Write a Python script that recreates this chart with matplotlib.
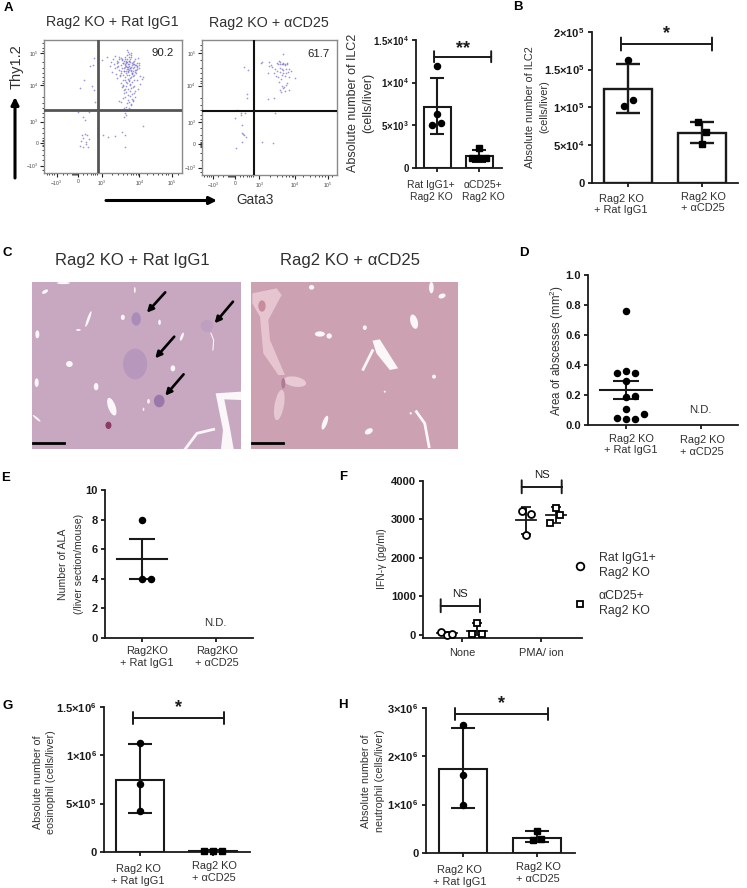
import matplotlib
matplotlib.use("Agg")
import matplotlib.pyplot as plt
from matplotlib.patches import Ellipse, Polygon
from matplotlib.transforms import ScaledTranslation

plt.rcParams['font.family'] = ['Liberation Sans', 'DejaVu Sans']
plt.rcParams['mathtext.fontset'] = 'custom'
plt.rcParams['mathtext.rm'] = 'Liberation Sans'
plt.rcParams['mathtext.it'] = 'Liberation Sans'
plt.rcParams['mathtext.bf'] = 'Liberation Sans:bold'

W, H = 747, 888
INK = '#1a1a1a'
GREY = '#303030'

# ---------- flow cytometry events (channel units) ----------
flow1_x = [235,268,250,255,372,428,365,310,325,345,375,375,245,255,262,250,268,243,258,240,258,265,248,
           240,253,275,283,285,283,270,280,
           305,322,333,340,350,352,358,362,366,370,374,378,382,386,390,394,398,402,406,410,414,418,
           345,355,362,368,372,376,380,384,388,392,396,400,404,408,412,416,420,428,
           335,348,356,364,370,377,381,385,389,393,397,401,405,411,
           352,360,368,374,379,383,387,391,395,399,403,
           362,370,376,381,386,391,396,402,410,420,427,
           365,372,378,384,389,394,399,406,
           372,378,384,390,396,402,415,
           368,376,383,390,397,404,
           375,382,388,394,400,
           378,385,392,399,
           358,364,380,388,394,374,373,380,388,378,
           330,342,354,366,374,379,383,387,391,395,375,381,386,390,372,377,384,388,393,398,
           345,356,362,371,376,382,386,392,403,409,352,366,378,385,396,404,412,418,
           360,371,380,392,401,388,378,369,398,408]
flow1_y = [337,335,350,360,352,378,395,405,412,408,405,442,405,402,405,415,418,422,425,437,432,440,440,
           263,240,258,270,307,175,197,195,
           180,172,185,178,190,183,170,195,178,188,172,198,165,182,176,158,185,192,178,190,175,188,
           205,198,212,190,205,195,185,208,192,200,188,205,195,210,198,205,228,232,
           215,222,210,218,225,212,200,215,205,212,222,200,215,208,
           235,228,240,232,220,238,225,235,218,228,240,
           248,255,240,250,242,252,245,258,240,252,238,
           262,270,258,268,255,265,260,272,
           280,275,285,272,282,278,268,
           295,290,300,288,296,292,
           268,310,305,315,302,
           320,155,312,300,
           303,305,150,162,165,340,325,330,325,345,
           198,192,186,180,192,186,192,198,204,196,202,207,210,186,212,190,200,183,209,193,
           168,178,175,182,176,178,172,170,184,196,200,204,182,214,218,210,200,196,
           226,214,226,232,224,240,246,258,212,220]
flow2_x = [848,783,787,807,808,813,815,803,825,823,832,836,840,834,840,847,850,856,860,862,855,848,
           839,845,850,858,868,872,864,858,850,840,832,845,856,868,884,828,834,844,862,858,845,848,840,844,856,868,853,804,822,838,825,
           733,743,742,741,712,722,723,734,706,727,727,730,733,737,727,709,787,818]
flow2_y = [162,190,188,188,198,195,203,220,208,220,190,185,188,194,192,192,190,192,190,192,196,194,
           206,208,210,208,208,215,218,220,220,217,215,225,228,232,234,230,233,238,250,257,260,265,272,278,275,272,263,297,295,246,340,
           203,210,283,295,331,340,346,341,356,376,398,401,406,411,427,443,427,430]

flow_xtick_labels = ['$-10^{3}$', '0', '$10^{3}$', '$10^{4}$', '$10^{5}$']
flow_ytick_labels = ['$10^{5}$', '$10^{4}$', '$10^{3}$', '0', '$-10^{3}$']
flow1_percent = '90.2'
flow2_percent = '61.7'

# ---------- bar panels ----------
groups_a = ['Rat IgG1+\nRag2 KO', 'αCD25+\nRag2 KO']
a_mean = [7100, 1400]
a_lo = [3900, 700]
a_hi = [10500, 2100]
a_pts1 = [12000, 6300, 5000, 5200]
a_pts2 = [2300, 1100, 1100, 1100]
a_ticks = [0, 5e3, 1e4, 1.5e4]
a_ticklabels = ['0', r'$\mathbf{5}$×$\mathbf{10^{3}}$', r'$\mathbf{1}$×$\mathbf{10^{4}}$', r'$\mathbf{1.5}$×$\mathbf{10^{4}}$']

groups_b = ['Rag2 KO\n+ Rat IgG1', 'Rag2 KO\n+ αCD25']
b_mean = [1.24e5, 6.6e4]
b_lo = [9.2e4, 5.3e4]
b_hi = [1.57e5, 8.0e4]
b_pts1 = [1.62e5, 1.10e5, 1.02e5]
b_pts2 = [8.0e4, 6.8e4, 5.2e4]
b_ticks = [0, 5e4, 1e5, 1.5e5, 2e5]
b_ticklabels = ['0', r'$\mathbf{5}$×$\mathbf{10^{4}}$', r'$\mathbf{1}$×$\mathbf{10^{5}}$',
                r'$\mathbf{1.5}$×$\mathbf{10^{5}}$', r'$\mathbf{2}$×$\mathbf{10^{5}}$']

d_groups = ['Rag2 KO\n+ Rat IgG1', 'Rag2 KO\n+ αCD25']
d_pts = [0.76, 0.35, 0.36, 0.35, 0.295, 0.19, 0.195, 0.105, 0.05, 0.04, 0.04, 0.075]
d_dx = [0, -9, 0, 9, 0, 0, 9, 0, -9, 0, 9, 18]
d_mean, d_lo, d_hi = 0.235, 0.175, 0.295
d_ticks = [0, 0.2, 0.4, 0.6, 0.8, 1.0]

e_groups = ['Rag2KO\n+ Rat IgG1', 'Rag2KO\n+ αCD25']
e_pts = [8, 4, 4]
e_dx = [0, 0, 9]
e_mean, e_lo, e_hi = 5.33, 4.0, 6.67
e_ticks = [0, 2, 4, 6, 8, 10]

f_cond = ['None', 'PMA/ ion']
f_series = ['Rat IgG1+\nRag2 KO', 'αCD25+\nRag2 KO']
f_rat_none = [90, 0, 20]
f_rat_pma = [3230, 3130, 2600]
f_cd25_none = [300, 20, 20]
f_cd25_pma = [3310, 3120, 2910]
f_rat_dx = [-6, 0, 5]
f_cd25_dx = [0, -5, 5]
f_rat_pma_dx = [-4, 5, 0]
f_cd25_pma_dx = [0, 4, -6]
f_rat_mean, f_rat_lo, f_rat_hi = [40, 2980], [0, 2630], [85, 3320]
f_cd_mean, f_cd_lo, f_cd_hi = [110, 3120], [0, 2920], [300, 3320]
f_ticks = [0, 1000, 2000, 3000, 4000]

g_mean = [7.45e5, 1.2e4]
g_lo = [4.0e5, 0.8e4]
g_hi = [1.11e6, 1.6e4]
g_pts1 = [1.13e6, 7.0e5, 4.2e5]
g_pts2 = [1.2e4, 1.2e4, 1.2e4]
g_ticks = [0, 5e5, 1e6, 1.5e6]
g_ticklabels = ['0', r'$\mathbf{5}$×$\mathbf{10^{5}}$', r'$\mathbf{1}$×$\mathbf{10^{6}}$', r'$\mathbf{1.5}$×$\mathbf{10^{6}}$']

h_mean = [1.74e6, 3.2e5]
h_lo = [9.3e5, 2.2e5]
h_hi = [2.59e6, 4.5e5]
h_pts1 = [2.65e6, 1.62e6, 1.0e6]
h_pts2 = [4.5e5, 2.7e5, 2.8e5]
h_ticks = [0, 1e6, 2e6, 3e6]
h_ticklabels = ['0', r'$\mathbf{1}$×$\mathbf{10^{6}}$', r'$\mathbf{2}$×$\mathbf{10^{6}}$', r'$\mathbf{3}$×$\mathbf{10^{6}}$']

fig = plt.figure(figsize=(W / 100, H / 100), dpi=100, facecolor='white')


def px_axes(l, t, r, b, **kw):
    return fig.add_axes([l / W, 1 - b / H, (r - l) / W, (b - t) / H], **kw)


def ftext(x, y, s, **kw):
    kw.setdefault('ha', 'center')
    kw.setdefault('va', 'center')
    kw.setdefault('color', GREY)
    return fig.text(x / W, 1 - y / H, s, **kw)


def farrow(x0, y0, x1, y1, lw=2.2, scale=11):
    fig.add_artist(matplotlib.patches.FancyArrowPatch(
        (x0 / W, 1 - y0 / H), (x1 / W, 1 - y1 / H), transform=fig.transFigure,
        arrowstyle='-|>', mutation_scale=scale, lw=lw, color='black', shrinkA=0, shrinkB=0))


def chart(l, t, r, b, ylim, cat0, cat1, ticks, ticklabels, xlabels, tick_size=8, label_size=7.9, pads=(4, 4), label_dx=(0, 0)):
    ax = px_axes(l, t, r, b)
    u = 1.0 / (cat1 - cat0)
    ax.set_xlim((l - cat0) * u, (r - cat0) * u)
    ax.set_ylim(*ylim)
    for s in ('top', 'right'):
        ax.spines[s].set_visible(False)
    for s in ('left', 'bottom'):
        ax.spines[s].set_linewidth(1.3)
        ax.spines[s].set_color(INK)
    ax.patch.set_alpha(0)
    ax.set_yticks(ticks)
    ax.set_yticklabels(ticklabels, fontsize=tick_size, fontweight='bold', color=INK)
    ax.set_xticks([0, 1])
    ax.set_xticklabels(xlabels, fontsize=label_size, color=GREY, linespacing=1.2)
    ax.tick_params(axis='both', length=3.2, width=1.3, color=INK, pad=2)
    for tick, p in zip(ax.xaxis.get_major_ticks(), pads):
        tick.set_pad(p)
    for lab, d in zip(ax.get_xticklabels(), label_dx):
        lab.set_transform(lab.get_transform() + ScaledTranslation(d / 100, 0, fig.dpi_scale_trans))
    return ax, u


def bars(ax, u, mean, lo, hi, bar_px, cap_px, lw=1.5):
    for i in range(2):
        ax.bar(i, mean[i], width=bar_px * u, facecolor='white', edgecolor=INK, linewidth=lw, zorder=2)
        ax.errorbar(i, mean[i], yerr=[[mean[i] - lo[i]], [hi[i] - mean[i]]], color=INK, elinewidth=lw,
                    capsize=cap_px * 0.72, capthick=lw, zorder=3)


def pts(ax, u, cat, vals, dx, marker='o', ms=4.4):
    ax.plot([cat + d * u for d in dx], vals, ls='none', marker=marker, ms=ms, color='black', zorder=4, clip_on=False)


def bracket(ax, x0, x1, y, h_px, label, lpx=0.0, lsize=13, ly_px=8, weight='bold'):
    ax.plot([x0, x1], [y, y], color=INK, lw=1.4, clip_on=False, zorder=5)
    for x in (x0, x1):
        ax.annotate('', xy=(x, y), xycoords='data', xytext=(0, h_px * 0.72), textcoords='offset points',
                    arrowprops=dict(arrowstyle='-', lw=1.4, color=INK, shrinkA=0, shrinkB=0))
        ax.annotate('', xy=(x, y), xycoords='data', xytext=(0, -h_px * 0.72), textcoords='offset points',
                    arrowprops=dict(arrowstyle='-', lw=1.4, color=INK, shrinkA=0, shrinkB=0))
    ax.annotate(label, xy=((x0 + x1) / 2, y), xytext=(lpx * 0.72, ly_px * 0.72), textcoords='offset points',
                ha='center', va='center', fontsize=lsize, fontweight=weight, color=INK, annotation_clip=False)


def flow(l, t, r, b, x, y, xlims, ylims, xticks, yticks, gx, gy, gate_color, gate_lw, xminor, yminor, percent, px, py):
    ax = px_axes(l, t, r, b)
    ax.set_xlim(*xlims)
    ax.set_ylim(*ylims)
    ax.scatter(x, y, s=1.5, color='#7a72d0', linewidths=0, alpha=0.75, zorder=2)
    ax.axvline(gx, color=gate_color, lw=gate_lw, zorder=3)
    ax.axhline(gy, color=gate_color, lw=gate_lw, zorder=3)
    for s in ax.spines.values():
        s.set_color('#8a8a8a')
        s.set_linewidth(1.0)
    ax.set_xticks(xticks)
    ax.set_xticklabels(flow_xtick_labels, fontsize=3.6, color='#444444')
    ax.set_yticks(yticks)
    ax.set_yticklabels(flow_ytick_labels, fontsize=3.6, color='#444444')
    ax.set_xticks(xminor, minor=True)
    ax.set_yticks(yminor, minor=True)
    ax.tick_params(axis='both', which='major', length=2.6, width=0.8, color='#222222', pad=1.5)
    ax.tick_params(axis='both', which='minor', length=1.5, width=0.6, color='#222222')
    ftext(px, py, percent, fontsize=8.2, color='#222222')
    return ax


# Panel A flow
xminor1 = [140, 148, 156, 163, 190, 200, 215, 218, 221, 224, 227, 230, 233, 250, 262, 272, 280, 286, 292, 335, 355, 370, 382,
           392, 400, 408, 414, 440, 460, 475, 487, 497, 505, 535]
yminor1 = [130, 143, 152, 185, 205, 220, 232, 242, 248, 290, 310, 325, 340, 352, 385, 400, 415, 420, 424, 430, 434, 437, 450, 465, 480, 510]
flow(44.3, 40, 181.7, 173.3, flow1_x, flow1_y, (133, 545), (520, 120), [170, 235, 305, 418, 515], [160, 255, 365, 428, 497],
     294, 329, '#555555', 2.0, xminor1, yminor1, flow1_percent, 163, 53)
xminor2 = [612, 620, 628, 633, 655, 670, 684, 687, 690, 693, 696, 699, 702, 720, 730, 740, 748, 754, 760, 810, 830, 846, 858,
           868, 876, 880, 910, 930, 945, 957, 966, 974, 995]
yminor2 = [135, 150, 182, 205, 220, 235, 245, 250, 295, 315, 330, 345, 358, 385, 405, 420, 426, 430, 434, 438, 442, 460, 480, 515]
flow(201.7, 40.5, 336.7, 175, flow2_x, flow2_y, (605, 1010), (525, 123), [640, 705, 778, 885, 983], [160, 258, 368, 432, 503],
     763, 333, '#111111', 1.5, xminor2, yminor2, flow2_percent, 318, 54)
ftext(112, 22, 'Rag2 KO + Rat IgG1', fontsize=10.3)
ftext(269, 23, 'Rag2 KO + αCD25', fontsize=10.3)
ftext(16.5, 67, 'Thy1.2', fontsize=10.5, rotation=90)
ftext(255, 200.5, 'Gata3', fontsize=9.8)
farrow(15, 178, 15, 97)
farrow(106, 200.5, 217, 200.5)

# Panel A bar
ax, u = chart(416, 40, 502, 167.7, (0, 1.5e4), 437, 479, a_ticks, a_ticklabels, groups_a, tick_size=7, label_size=7.5,
              pads=(6, 6), label_dx=(-6, 4))
bars(ax, u, a_mean, a_lo, a_hi, 27, 7)
pts(ax, u, 0, a_pts1, [0, 0, -5, 4])
pts(ax, u, 1, a_pts2, [0, -7, 0, 7], 's', 4.0)
bracket(ax, -0.07, 1.29, 1.304e4, 5.5, '**', lpx=0, ly_px=8)
ftext(353, 103, 'Absolute number of ILC2', fontsize=9.0, rotation=90)
ftext(368.5, 103, '(cells/liver)', fontsize=9.0, rotation=90)

# Panel B
ax, u = chart(591.7, 31.7, 738, 183, (0, 2e5), 628, 702, b_ticks, b_ticklabels, groups_b, pads=(4.5, 3), label_dx=(-7, 1))
bars(ax, u, b_mean, b_lo, b_hi, 48, 12, lw=1.7)
pts(ax, u, 0, b_pts1, [0, 5, -4])
pts(ax, u, 1, b_pts2, [-4, 4, 0], 's', 4.4)
bracket(ax, -0.095, 1.135, 1.837e5, 6.5, '*', lpx=0, ly_px=10)
ftext(530, 107, 'Absolute number of ILC2', fontsize=7.9, rotation=90)
ftext(544, 107, '(cells/liver)', fontsize=7.9, rotation=90)

# Panel C images
LEFT_BG = '#c8a8c1'
RIGHT_BG = '#cca2b2'
WHITE = '#fbf6f8'
left_blobs = [(408, 237, 28, 40, 0, '#ab8cb8'), (620, 258, 38, 36, 0, '#bf9fc0'), (405, 372, 72, 92, 0, '#b797bb'),
              (477, 483, 32, 38, 0, '#9a78aa'), (325, 556, 18, 22, 0, '#8a3c62')]
left_holes = [(265, 237, 8, 50, 20, WHITE), (208, 372, 20, 18, 0, WHITE), (112, 283, 12, 24, 0, WHITE),
              (110, 428, 12, 26, 0, WHITE), (288, 440, 14, 22, 0, WHITE), (335, 500, 22, 56, -20, WHITE),
              (518, 385, 14, 18, 0, WHITE), (545, 290, 8, 26, 20, WHITE), (478, 247, 8, 16, 0, WHITE),
              (368, 232, 12, 16, 0, WHITE), (135, 155, 20, 10, -30, WHITE), (190, 129, 40, 7, 0, WHITE),
              (404, 150, 5, 18, 0, WHITE), (445, 484, 8, 14, 0, WHITE), (235, 270, 14, 6, 0, WHITE),
              (110, 535, 30, 6, 40, WHITE), (430, 508, 5, 10, 0, WHITE)]
right_pale = [(885, 425, 68, 30, 10, '#e8cad5'), (838, 495, 28, 92, 10, '#e6c8d3')]
right_dark = [(850, 430, 12, 32, 0, '#ae7a96'), (786, 198, 22, 34, 0, '#c98c9c')]
right_holes = [(1243, 245, 22, 44, -15, WHITE), (1095, 263, 12, 14, 0, WHITE), (960, 282, 30, 16, 0, WHITE),
               (988, 288, 16, 16, 0, WHITE), (1295, 143, 14, 34, 0, WHITE), (1327, 168, 22, 14, -20, WHITE),
               (935, 142, 16, 14, 0, WHITE), (975, 548, 14, 44, 20, WHITE), (1107, 574, 26, 16, -30, WHITE),
               (1303, 410, 12, 12, 0, WHITE), (1233, 520, 7, 7, 0, WHITE), (1155, 455, 6, 6, 0, WHITE)]


def histo(l, t, r, b, xlims, bg, blobs):
    ax = px_axes(l, t, r, b)
    ax.set_xlim(*xlims)
    ax.set_ylim(627, 126)
    ax.set_facecolor(bg)
    ax.set_xticks([])
    ax.set_yticks([])
    for s in ax.spines.values():
        s.set_visible(False)
    for (x, y, w, h, ang, c) in blobs:
        ax.add_patch(Ellipse((x, y), w, h, angle=ang, facecolor=c, edgecolor='none'))
    return ax


ax = histo(32, 282, 241, 449, (96, 722), LEFT_BG, left_blobs + left_holes)
ax.add_patch(Polygon([(646, 460), (722, 455), (722, 480), (672, 478), (690, 570), (700, 627), (662, 627), (668, 570)],
                     facecolor=WHITE, edgecolor='none'))
ax.plot([555, 590, 640], [627, 580, 568], color=WHITE, lw=2)
ax.plot([632, 640, 638], [280, 300, 330], color=WHITE, lw=0.8)
for (x0, y0, x1, y1) in [(495, 157, 440, 218), (698, 185, 643, 250), (522, 290, 465, 355), (550, 403, 495, 467)]:
    ax.annotate('', xy=(x1, y1), xytext=(x0, y0),
                arrowprops=dict(arrowstyle='-|>', color='black', lw=1.9, mutation_scale=9, shrinkA=0, shrinkB=0))
ax.plot([100, 192], [608, 608], color='black', lw=2)

ax = histo(251, 282, 458, 449, (753, 1375), RIGHT_BG, right_pale)
ax.add_patch(Polygon([(757, 160), (830, 145), (845, 165), (805, 240), (810, 300), (855, 405), (835, 405), (790, 340), (780, 230), (757, 190)],
                     facecolor='#e6c4d0', edgecolor='none'))
for (x, y, w, h, ang, c) in right_dark + right_holes:
    ax.add_patch(Ellipse((x, y), w, h, angle=ang, facecolor=c, edgecolor='none'))
ax.add_patch(Polygon([(1118, 302), (1140, 298), (1195, 385), (1170, 390), (1130, 340)], facecolor=WHITE, edgecolor='none'))
ax.plot([1118, 1090], [332, 388], color=WHITE, lw=2)
ax.plot([1250, 1275, 1288], [515, 550, 620], color=WHITE, lw=2)
ax.plot([757, 848], [608, 608], color='black', lw=2)
ftext(132, 260, 'Rag2 KO + Rat IgG1', fontsize=12)
ftext(350, 260, 'Rag2 KO + αCD25', fontsize=12)

# Panel D
ax, u = chart(588, 275, 738, 425, (0, 1), 626, 701, d_ticks, [f'{v:.1f}' for v in d_ticks], d_groups, pads=(3, 4), label_dx=(5, 1))
ax.plot([-26 * u, 26 * u], [d_mean, d_mean], color=INK, lw=1.5, zorder=3)
ax.errorbar(0, d_mean, yerr=[[d_mean - d_lo], [d_hi - d_mean]], color=INK, elinewidth=1.5, capsize=13 * 0.72, capthick=1.5, zorder=3)
pts(ax, u, 0, d_pts, d_dx)
ftext(700, 409.5, 'N.D.', fontsize=8.2)
ftext(557, 351, 'Area of abscesses (mm$^{2}$)', fontsize=8.3, rotation=90)

# Panel E
ax, u = chart(105, 490, 253, 637.7, (0, 10), 142, 216, e_ticks, [str(v) for v in e_ticks], e_groups, pads=(3, 3), label_dx=(5, 1))
ax.plot([-25 * u, 25 * u], [e_mean, e_mean], color=INK, lw=1.5, zorder=3)
ax.errorbar(0, e_mean, yerr=[[e_mean - e_lo], [e_hi - e_mean]], color=INK, elinewidth=1.5, capsize=13 * 0.72, capthick=1.5, zorder=3)
pts(ax, u, 0, e_pts, e_dx)
ftext(215, 623, 'N.D.', fontsize=8.2)
ftext(63.5, 564, 'Number of ALA', fontsize=7.6, rotation=90)
ftext(79, 564, '(/liver section/mouse)', fontsize=7.6, rotation=90)

# Panel F
ax, u = chart(423, 481, 582, 638, (-78, 4000), 462, 541, f_ticks, [str(v) for v in f_ticks], f_cond, pads=(4, 4))
off = 15 * u
mfc = dict(markerfacecolor='white', markeredgecolor='black', markeredgewidth=1.3)
for c, s, mean, lo, hi in [(0, -off, f_rat_mean[0], f_rat_lo[0], f_rat_hi[0]), (1, -off, f_rat_mean[1], f_rat_lo[1], f_rat_hi[1]),
                           (0, off, f_cd_mean[0], f_cd_lo[0], f_cd_hi[0]), (1, off, f_cd_mean[1], f_cd_lo[1], f_cd_hi[1])]:
    ax.plot([c + s - 10 * u, c + s + 10 * u], [mean, mean], color=INK, lw=1.3, zorder=3)
    ax.errorbar(c + s, mean, yerr=[[mean - lo], [hi - mean]], color=INK, elinewidth=1.4, capsize=5 * 0.72, capthick=1.3, zorder=3)
ax.plot([0 - off + d * u for d in f_rat_dx], f_rat_none, ls='none', marker='o', ms=5, zorder=4, clip_on=False, **mfc)
ax.plot([1 - off + d * u for d in f_rat_pma_dx], f_rat_pma, ls='none', marker='o', ms=5, zorder=4, **mfc)
ax.plot([0 + off + d * u for d in f_cd25_dx], f_cd25_none, ls='none', marker='s', ms=4.4, zorder=4, clip_on=False, **mfc)
ax.plot([1 + off + d * u for d in f_cd25_pma_dx], f_cd25_pma, ls='none', marker='s', ms=4.4, zorder=4, **mfc)
bracket(ax, (440.7 - 462) * u, (480 - 462) * u, 760, 6.5, 'NS', ly_px=12, lsize=8.2, weight='normal')
bracket(ax, (521.7 - 462) * u, (561.7 - 462) * u, 3850, 6.5, 'NS', ly_px=12, lsize=8.2, weight='normal')
ftext(382, 559, 'IFN-γ (pg/ml)', fontsize=7.5, rotation=90)
leg = px_axes(570, 550, 670, 625)
leg.axis('off')
legend_handles = [leg.plot([], [], ls='none', marker='o', ms=5.5, **mfc)[0],
                  leg.plot([], [], ls='none', marker='s', ms=5, **mfc)[0]]
lg = fig.legend(legend_handles, f_series, loc='upper left', bbox_to_anchor=(573 / W, 1 - 552 / H), frameon=False,
                fontsize=8.9, labelcolor=GREY, handletextpad=0.9, labelspacing=0.95, borderpad=0, handlelength=1.2, borderaxespad=0)
for t in lg.get_texts():
    t.set_linespacing(1.3)

# Panel G
ax, u = chart(104, 706.7, 250, 852, (0, 1.5e6), 140, 213, g_ticks, g_ticklabels, groups_b, pads=(5.5, 3.5), label_dx=(-2, 1))
bars(ax, u, g_mean, g_lo, g_hi, 48, 12)
pts(ax, u, 0, g_pts1, [0, 0, 0])
pts(ax, u, 1, g_pts2, [-9, 0, 9], 's', 4.2)
bracket(ax, (133 - 140) * u, (224 - 140) * u, 1.383e6, 6, '*', ly_px=10)
ftext(38, 782, 'Absolute number of', fontsize=7.7, rotation=90)
ftext(51, 782, 'eosinophil (cells/liver)', fontsize=7.7, rotation=90)

# Panel H
ax, u = chart(425.7, 707.7, 575, 853, (0, 3e6), 462.7, 537, h_ticks, h_ticklabels, groups_b, pads=(5.5, 3.5), label_dx=(-3, 1))
bars(ax, u, h_mean, h_lo, h_hi, 48, 12)
pts(ax, u, 0, h_pts1, [0, 0, 0])
pts(ax, u, 1, h_pts2, [0, -4, 4], 's', 4.2)
bracket(ax, (455 - 462.7) * u, (548 - 462.7) * u, 2.87e6, 6, '*', ly_px=10)
ftext(366, 781, 'Absolute number of', fontsize=7.7, rotation=90)
ftext(380, 781, 'neutrophil (cells/liver)', fontsize=7.7, rotation=90)

# Panel letters
for s, x, y in [('A', 8, 8), ('B', 518, 7), ('C', 7, 253), ('D', 524, 253), ('E', 6, 478), ('F', 343, 477), ('G', 8, 706), ('H', 343, 705)]:
    ftext(x, y, s, fontsize=9.5, fontweight='bold', color='black')

fig.savefig('out.png', dpi=100)
